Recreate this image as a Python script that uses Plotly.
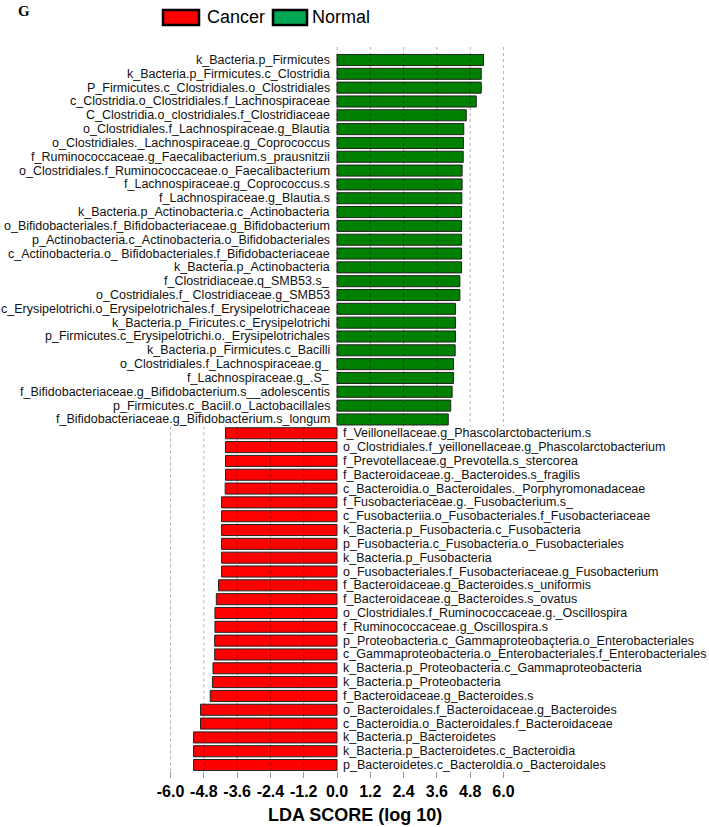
import plotly.graph_objects as go

# ---------------- data ----------------
normal_labels = [
    "k_Bacteria.p_Firmicutes",
    "k_Bacteria.p_Firmicutes.c_Clostridia",
    "P_Firmicutes.c_Clostridiales.o_Clostridiales",
    "c_Clostridia.o_Clostridiales.f_Lachnospiraceae",
    "C_Clostridia.o_clostridiales.f_Clostridiaceae",
    "o_Clostridiales.f_Lachnospiraceae.g_Blautia",
    "o_Clostridiales._Lachnospiraceae.g_Coprococcus",
    "f_Ruminococcaceae.g_Faecalibacterium.s_prausnitzii",
    "o_Clostridiales.f_Ruminococcaceae.o_Faecalibacterium",
    "f_Lachnospiraceae.g_Coprococcus.s",
    "f_Lachnospiraceae.g_Blautia.s",
    "k_Bacteria.p_Actinobacteria.c_Actinobacteria",
    "o_Bifidobacteriales.f_Bifidobacteriaceae.g_Bifidobacterium",
    "p_Actinobacteria.c_Actinobacteria.o_Bifidobacteriales",
    "c_Actinobacteria.o_ Bifidobacteriales.f_Bifidobacteriaceae",
    "k_Bacteria.p_Actinobacteria",
    "f_Clostridiaceae.q_SMB53.s_",
    "o_Costridiales.f_ Clostridiaceae.g_SMB53",
    "c_Erysipelotrichi.o_Erysipelotrichales.f_Erysipelotrichaceae",
    "k_Bacteria.p_Firicutes.c_Erysipelotrichi",
    "p_Firmicutes.c_Erysipelotrichi.o._Erysipelotrichales",
    "k_Bacteria.p_Firmicutes.c_Bacilli",
    "o_Clostridiales.f_Lachnospiraceae.g_",
    "f_Lachnospiraceae.g_.S_",
    "f_Bifidobacteriaceae.g_Bifidobacterium.s__adolescentis",
    "p_Firmicutes.c_Baciil.o_Lactobacillales",
    "f_Bifidobacteriaceae.g_Bifidobacterium.s_longum",
]
normal_scores = [5.28, 5.20, 5.20, 5.02, 4.66, 4.57, 4.56, 4.55, 4.51, 4.51,
                 4.50, 4.49, 4.49, 4.49, 4.49, 4.49, 4.43, 4.43, 4.27, 4.27,
                 4.27, 4.26, 4.20, 4.20, 4.15, 4.10, 4.01]

cancer_labels = [
    "f_Veillonellaceae.g_Phascolarctobacterium.s",
    "o_Clostridiales.f_yeillonellaceae.g_Phascolarctobacterium",
    "f_Prevotellaceae.g_Prevotella.s_stercorea",
    "f_Bacteroidaceae.g._Bacteroides.s_fragilis",
    "c_Bacteroidia.o_Bacteroidales._Porphyromonadaceae",
    "f_Fusobacteriaceae.g._Fusobacterium.s_",
    "c_Fusobacteriia.o_Fusobacteriales.f_Fusobacteriaceae",
    "k_Bacteria.p_Fusobacteria.c_Fusobacteria",
    "p_Fusobacteria.c_Fusobacteria.o_Fusobacteriales",
    "k_Bacteria.p_Fusobacteria",
    "o_Fusobacteriales.f_Fusobacteriaceae.g_Fusobacterium",
    "f_Bacteroidaceae.g_Bacteroides.s_uniformis",
    "f_Bacteroidaceae.g_Bacteroides.s_ovatus",
    "o_Clostridiales.f_Ruminococcaceae.g._Oscillospira",
    "f_Ruminococcaceae.g_Oscillospira.s",
    "p_Proteobacteria.c_Gammaproteobaçteria.o_Enterobacteriales",
    "c_Gammaproteobacteria.o_Enterobacteriales.f_Enterobacteriales",
    "k_Bacteria.p_Proteobacteria.c_Gammaproteobacteria",
    "k_Bacteria.p_Proteobacteria",
    "f_Bacteroidaceae.g_Bacteroides.s",
    "o_Bacteroidales.f_Bacteroidaceae.g_Bacteroides",
    "c_Bacteroidia.o_Bacteroidales.f_Bacteroidaceae",
    "k_Bacteria.p_Bacteroidetes",
    "k_Bacteria.p_Bacteroidetes.c_Bacteroidia",
    "p_Bacteroidetes.c_Bacteroldia.o_Bacteroidales",
]
cancer_scores = [-4.02, -4.02, -4.02, -4.02, -4.03, -4.16, -4.16, -4.16, -4.16,
                 -4.16, -4.16, -4.27, -4.35, -4.40, -4.40, -4.41, -4.41, -4.47,
                 -4.49, -4.57, -4.92, -4.92, -5.17, -5.17, -5.17]

tick_values = [-6.0, -4.8, -3.6, -2.4, -1.2, 0.0, 1.2, 2.4, 3.6, 4.8, 6.0]
tick_labels = ["-6.0", "-4.8", "-3.6", "-2.4", "-1.2", "0.0", "1.2", "2.4", "3.6", "4.8", "6.0"]

groups = ["Cancer", "Normal"]
group_colors = {"Cancer": "#ff0000", "Normal": "#008000"}
legend_colors = {"Cancer": "#ff0000", "Normal": "#00a651"}

# ---------------- layout geometry ----------------
W, H = 709, 827
L, R, T, B = 165, 200, 47, 56
PW, PH = W - L - R, H - T - B
XR = [-6.2, 6.2]
n_norm = len(normal_labels)
n_all = n_norm + len(cancer_labels)
YR = [n_all - 1 + 0.43, -0.94]


def px(xp):
    return (xp - L) / PW


def py(yp):
    return (H - B - yp) / PH


normal_rows = list(range(n_norm))
cancer_rows = list(range(n_norm, n_all))

fig = go.Figure()
fig.add_trace(go.Bar(
    y=normal_rows, x=normal_scores, orientation="h", width=0.8,
    marker=dict(color=group_colors["Normal"], line=dict(color="#222222", width=1)),
    showlegend=False, hoverinfo="skip"))
fig.add_trace(go.Bar(
    y=cancer_rows, x=cancer_scores, orientation="h", width=0.8,
    marker=dict(color=group_colors["Cancer"], line=dict(color="#222222", width=1)),
    showlegend=False, hoverinfo="skip"))

annotations = []
lab_font = dict(family="Liberation Sans, Arial, sans-serif", size=12.5, color="#111111")
for r, lab in zip(normal_rows, normal_labels):
    annotations.append(dict(x=0, y=r, xref="x", yref="y", text=lab, showarrow=False,
                            xanchor="right", yanchor="middle", xshift=-5, font=lab_font))
for r, lab in zip(cancer_rows, cancer_labels):
    annotations.append(dict(x=0, y=r, xref="x", yref="y", text=lab, showarrow=False,
                            xanchor="left", yanchor="middle", xshift=4, font=lab_font))

# legend (custom)
shapes = []
leg_items = [("Cancer", 163, 199, 205), ("Normal", 273, 307, 310)]
for name, x0, x1, tx in leg_items:
    shapes.append(dict(type="rect", xref="paper", yref="paper",
                       x0=px(x0), x1=px(x1), y0=py(25), y1=py(10),
                       fillcolor=legend_colors[name], line=dict(color="black", width=2.5)))
    annotations.append(dict(x=px(tx), y=py(17.5), xref="paper", yref="paper", text=name,
                            showarrow=False, xanchor="left", yanchor="middle",
                            font=dict(family="Liberation Sans, Arial, sans-serif", size=18,
                                      color="black")))

# panel letter
annotations.append(dict(x=px(16), y=py(1), xref="paper", yref="paper", text="<b>G</b>",
                        showarrow=False, xanchor="left", yanchor="top",
                        font=dict(family="Liberation Serif, Times New Roman, serif", size=15,
                                  color="black")))
# axis title
annotations.append(dict(x=px(355), y=py(815), xref="paper", yref="paper",
                        text="<b>LDA SCORE (log 10)</b>", showarrow=False,
                        xanchor="center", yanchor="middle",
                        font=dict(family="Liberation Sans, Arial, sans-serif", size=18,
                                  color="black")))

# dotted gridlines drawn above bars
split = n_norm - 0.5
for v in tick_values:
    if v >= 0:
        y0, y1 = YR[1], split
    else:
        y0, y1 = split, YR[0]
    shapes.append(dict(type="line", xref="x", yref="y", x0=v, x1=v, y0=y0, y1=y1,
                       layer="above", line=dict(color="rgba(0,0,0,0.3)", width=1, dash="dot")))

fig.update_layout(
    width=W, height=H,
    margin=dict(l=L, r=R, t=T, b=B),
    paper_bgcolor="white", plot_bgcolor="white",
    barmode="overlay",
    annotations=annotations, shapes=shapes,
    xaxis=dict(range=XR, tickvals=tick_values, ticktext=tick_labels,
               showgrid=False, zeroline=False, showline=False,
               ticks="outside", ticklen=6, tickcolor="#999999",
               tickfont=dict(family="Liberation Sans, Arial, sans-serif", size=16,
                             color="black", weight="bold")),
    yaxis=dict(range=YR, showticklabels=False, showgrid=False, zeroline=False,
               showline=False, ticks=""),
)

fig.write_html("out.html",
               config={"displayModeBar": False},
               post_script="document.body.style.margin='0';document.body.style.padding='0';"
                           "document.body.style.overflow='hidden';")
